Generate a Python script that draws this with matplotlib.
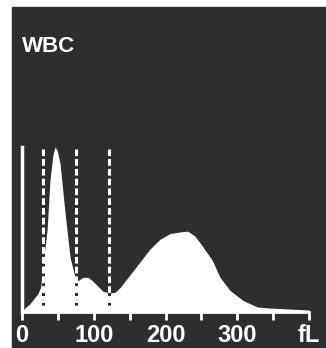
import numpy as np
import matplotlib.pyplot as plt
from matplotlib.patches import Rectangle

# WBC size distribution (height as % of the main peak)
size_fl = [0, 4, 11, 22, 26, 28, 35, 39, 43, 46, 49, 53, 60, 67, 74, 78, 85, 92, 98,
           105, 113, 123, 130, 137, 155, 178, 192, 206, 220, 231, 241, 248, 265,
           276, 290, 308, 328, 346, 373, 400]
height = [0, 2.4, 5, 11, 15, 24, 50, 80, 95, 100, 98, 90, 60, 33, 21, 19, 21, 21, 19,
          16, 12.5, 11.5, 12, 15, 25, 38, 44, 47.5, 48.5, 49, 46, 42, 31.5,
          21, 13, 7, 3, 2.4, 1.8, 1.2]
discriminators = [29, 75, 121]
tick_pos = [0, 50, 100, 150, 200, 250, 300, 350, 400]
tick_lab = ['0', '', '100', '', '200', '', '300', '', 'fL']

bg = '#2e2e2e'
W, H = 326, 348
fig = plt.figure(figsize=(W / 100, H / 100), dpi=100, facecolor='white')
# dark panel, white strip on top and left
fig.patches.append(Rectangle((12 / W, 0), 1 - 12 / W, 1 - 7 / H,
                             transform=fig.transFigure, color=bg, zorder=-10))

ax = fig.add_axes([22 / W, (H - 312) / H, 287 / W, 165 / H])
ax.set_facecolor('none')
ax.fill_between(size_fl, 0, height, color='white', lw=0)

for d in discriminators:
    ax.plot([d, d], [0, 99], color='white', lw=2.2, linestyle=(0, (2.2, 1)),
            gapcolor=bg, solid_capstyle='butt')

ax.set_xlim(0, 400)
ax.set_ylim(0, 100)
ax.set_yticks([])
ax.set_xticks(tick_pos)
ax.set_xticklabels(tick_lab, fontfamily='Liberation Sans', fontweight='bold',
                   fontsize=17, color='white')
ax.tick_params(axis='x', direction='out', length=6, width=2, color='white', pad=3)
for s in ['top', 'right']:
    ax.spines[s].set_visible(False)
ax.spines['bottom'].set_color('white')
ax.spines['bottom'].set_linewidth(2)
ax.spines['left'].set_color('white')
ax.spines['left'].set_linewidth(2.5)

fig.text(22 / W, 1 - 47 / H, 'WBC', color='white', fontfamily='Liberation Sans',
         fontweight='bold', fontsize=16, va='center', ha='left')

fig.savefig('out.png', dpi=100, facecolor='white')
